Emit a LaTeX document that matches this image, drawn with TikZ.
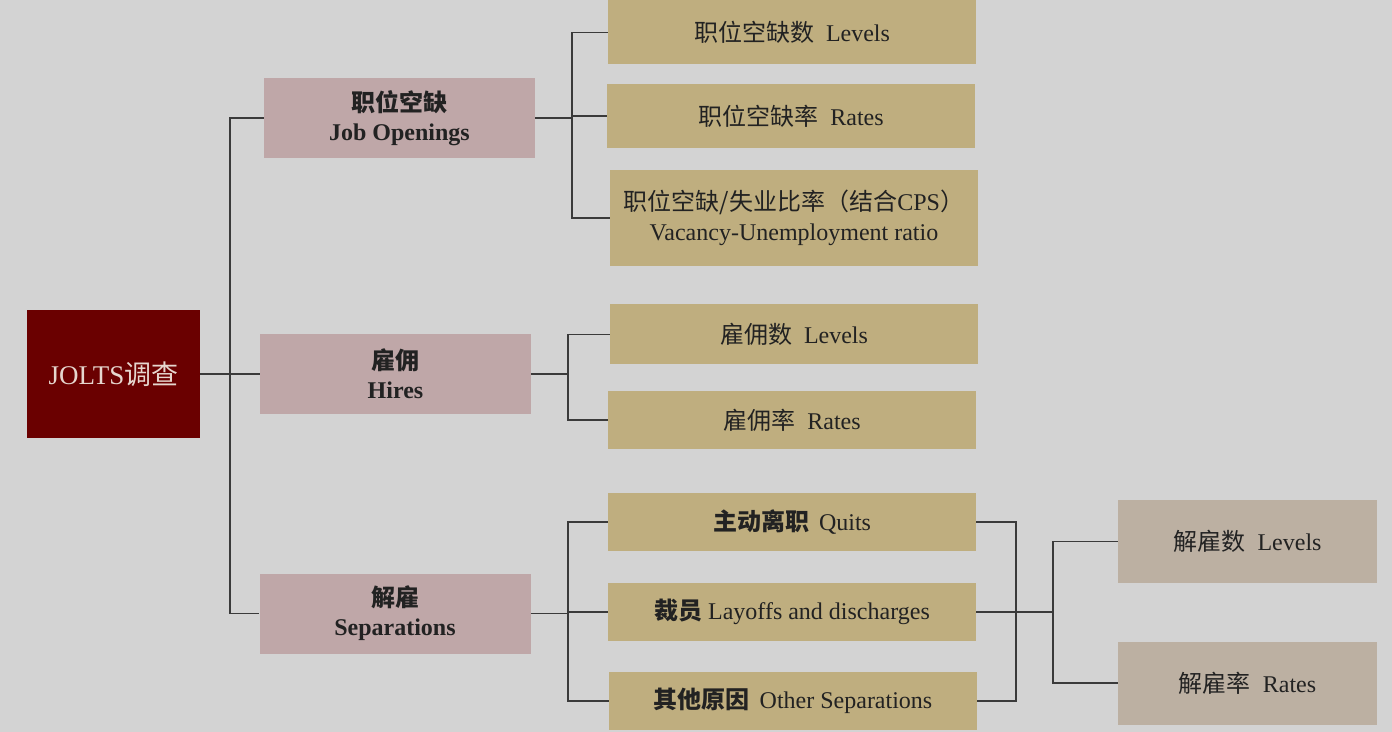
\documentclass[tikz,border=0pt]{standalone}
\usepackage{fontspec}
\setmainfont{Liberation Serif}
\newfontfamily\cjk{Noto Sans CJK SC}
\usetikzlibrary{positioning,calc}
\definecolor{bgc}{HTML}{D3D3D3}
\definecolor{rootc}{HTML}{6A0000}
\definecolor{roottext}{HTML}{E6D6CE}
\definecolor{catc}{HTML}{BFA7A8}
\definecolor{itemc}{HTML}{BFAE7F}
\definecolor{subc}{HTML}{BCB0A2}
\definecolor{linec}{HTML}{3A3A3A}
\definecolor{textc}{HTML}{222222}
\newcommand\zh[1]{{\cjk #1}}

\begin{document}
\begin{tikzpicture}[x = 0.5pt, y = -0.5pt,
  box/.style = {rectangle, inner sep = 0pt, align = center, text = textc},
  rootbox/.style = {box, fill = rootc, text = roottext, minimum width = 86.5pt, minimum height = 64pt, font = \fontsize{13.5}{16}\selectfont},
  catbox/.style = {box, fill = catc, minimum width = 135.5pt, minimum height = 40pt, font = \bfseries\fontsize{12}{14.5}\selectfont},
  itembox/.style = {box, fill = itemc, minimum width = 184pt, font = \fontsize{12}{15}\selectfont},
  subbox/.style = {box, fill = subc, minimum width = 129.5pt, minimum height = 41.5pt, font = \fontsize{12}{15}\selectfont},
  link/.style = {draw = linec, line width = 0.8pt},
  mergelink/.style = {link, line width = 1.4pt}]
\fill[bgc] (0,0) rectangle (1392,732);
\useasboundingbox (0,0) rectangle (1392,732);
\node[rootbox] (root) at (113.5, 374) {JOLTS\zh{调查}};
\node[catbox] (jo) at (399.5, 118) {\zh{职位空缺}\\Job Openings};
\node[catbox] (hires) at (395.5, 374) {\zh{雇佣}\\Hires};
\node[catbox] (sep) at (395, 613.5) {\zh{解雇}\\Separations};
\node[itembox, minimum height = 32pt] (jolev) at (792, 32.5) {\zh{职位空缺数}\hspace{6pt}Levels};
\node[itembox, minimum height = 32pt] (jorate) at (791, 116) {\zh{职位空缺率}\hspace{6pt}Rates};
\node[itembox, minimum height = 48pt] (jovu) at (794, 218) {\zh{职位空缺/失业比率（结合}CPS\zh{）}\\Vacancy-Unemployment ratio};
\node[itembox, minimum height = 30pt] (hirelev) at (794, 334.5) {\zh{雇佣数}\hspace{6pt}Levels};
\node[itembox, minimum height = 29pt] (hirerate) at (792, 420) {\zh{雇佣率}\hspace{6pt}Rates};
\node[itembox, minimum height = 29pt] (quits) at (792, 522) {\zh{\bfseries 主动离职}\hspace{5pt}Quits};
\node[itembox, minimum height = 29pt] (layoffs) at (792, 612) {\zh{\bfseries 裁员}\hspace{3pt}Layoffs and discharges};
\node[itembox, minimum height = 29pt] (other) at (793, 701) {\zh{\bfseries 其他原因}\hspace{5pt}Other Separations};
\node[subbox] (seplev) at (1247.5, 541.5) {\zh{解雇数}\hspace{6pt}Levels};
\node[subbox] (seprate) at (1247.5, 683) {\zh{解雇率}\hspace{6pt}Rates};
\coordinate (rootfork) at (230, 374);
\coordinate (jofork) at (572, 118);
\coordinate (hirefork) at (568, 374);
\coordinate (sepfork) at (568, 613.5);
\coordinate (sepjoin) at (1016, 612);
\coordinate (subfork) at (1053, 612);
\draw[link] (root.east) -- (rootfork);
\foreach \n in {jo, hires, sep} \draw[link] (rootfork) |- (\n.west);
\draw[mergelink] (jo.east) -- (jofork);
\foreach \n in {jolev, jorate, jovu} \draw[link] (jofork) |- (\n.west);
\draw[link] (hires.east) -- (hirefork);
\foreach \n in {hirelev, hirerate} \draw[link] (hirefork) |- (\n.west);
\draw[link] (sep.east) -- (sepfork);
\foreach \n in {quits, layoffs, other} \draw[link] (sepfork) |- (\n.west);
\foreach \n in {quits, layoffs, other} \draw[link] (\n.east) -| (sepjoin);
\draw[mergelink] (sepjoin) -- (subfork);
\foreach \n in {seplev, seprate} \draw[link] (subfork) |- (\n.west);
\end{tikzpicture}
\end{document}
